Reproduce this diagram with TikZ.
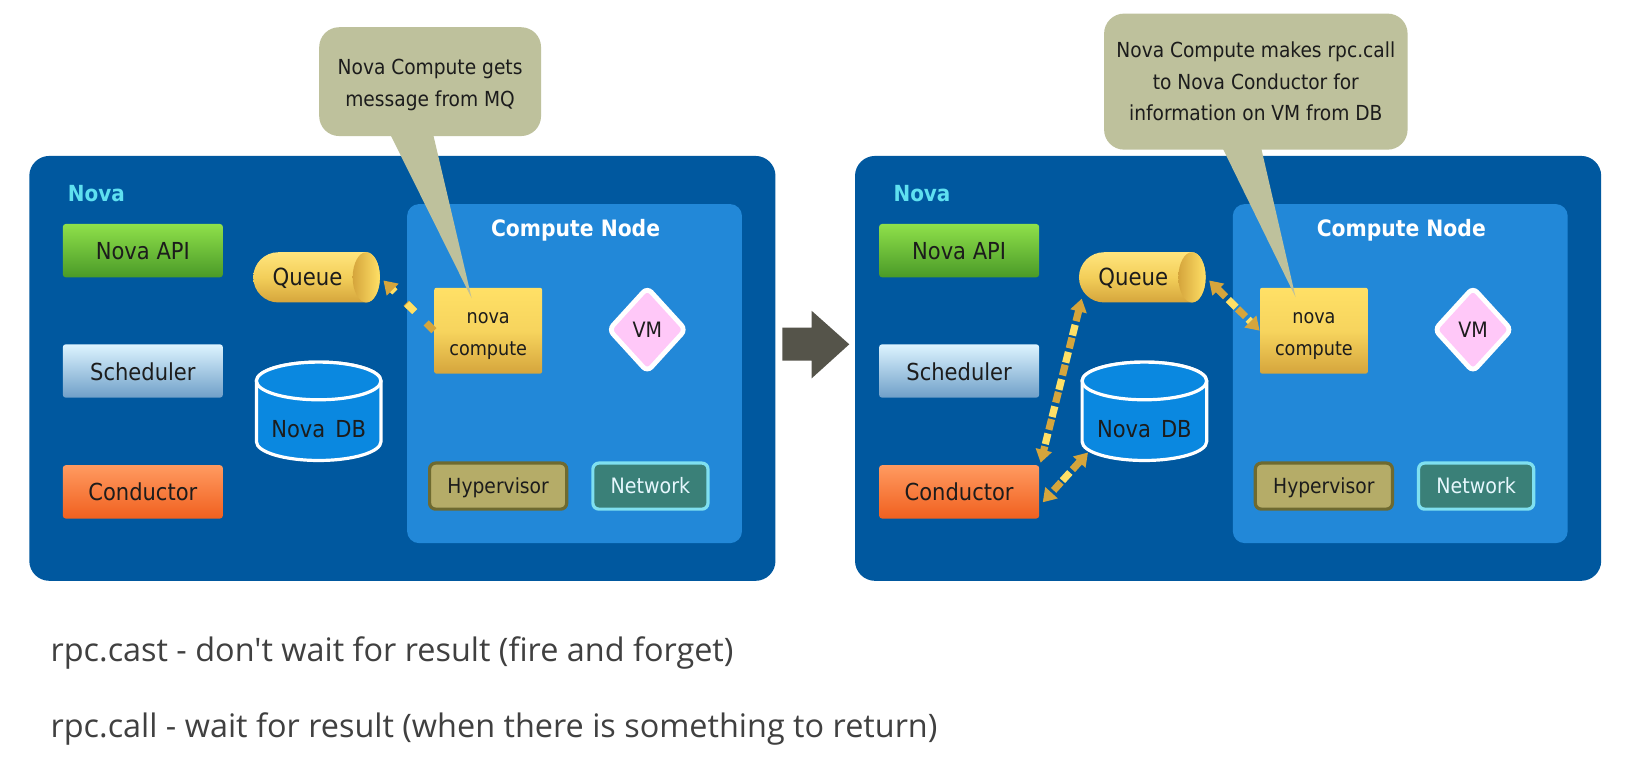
\documentclass[tikz,border=0pt]{standalone}
\usepackage{fontspec}
\setmainfont{DejaVu Sans Condensed}
\newfontfamily\bottomfont{Open Sans}
\usetikzlibrary{arrows.meta,shapes.geometric}
\def\uu{0.5233pt}
\definecolor{panelblue}{HTML}{00589F}
\definecolor{computeblue}{HTML}{2288D8}
\definecolor{calloutc}{HTML}{BEC19C}
\definecolor{gold}{HTML}{D5A53C}
\definecolor{yell}{HTML}{FFE066}
\definecolor{txt}{HTML}{1C1C1C}
\definecolor{dbblue}{HTML}{0A88E0}
\definecolor{vmpink}{HTML}{FFC8F8}
\definecolor{hyp}{HTML}{B5AC68}
\definecolor{hypb}{HTML}{6E6A30}
\definecolor{net}{HTML}{3A8078}
\definecolor{netb}{HTML}{7FE0F0}
\definecolor{arrowc}{HTML}{55544A}
\definecolor{novac}{HTML}{5FE0F0}
\definecolor{apit}{HTML}{8FE04A}
\definecolor{apib}{HTML}{4A9A28}
\definecolor{scht}{HTML}{DDF4FF}
\definecolor{schb}{HTML}{6F9FC8}
\definecolor{cont}{HTML}{FF9A60}
\definecolor{conb}{HTML}{F0601F}
\tikzset{
  x=\uu, y=-\uu,
  lbl/.style={font=\fontsize{11.7}{13}\selectfont, text=txt, align=center},
  sidebox/.style={lbl, minimum width=153*\uu, minimum height=51*\uu, inner sep=0pt, rounded corners=1.5pt},
  panelbox/.style={fill=panelblue, rounded corners=10pt, inner sep=0pt, minimum width=713*\uu, minimum height=406*\uu},
  cnodebox/.style={fill=computeblue, rounded corners=6pt, inner sep=0pt, minimum width=320*\uu, minimum height=324*\uu},
  smallbox/.style={lbl, line width=1.6pt, rounded corners=3pt, inner sep=0pt, minimum height=44*\uu},
  callout/.style={fill=calloutc, draw=none, rounded corners=10pt},
  calltext/.style={font=\fontsize{10.35}{15.7}\selectfont, text=txt, align=center},
  goldline/.style={draw=gold, line width=3.6pt, dash pattern=on 5.5pt off 8.5pt},
  yellline/.style={draw=yell, line width=3.6pt, dash pattern=on 5.5pt off 8.5pt, dash phase=7pt},
  tipstyle/.style={{Triangle[length=6.5pt,width=8pt,fill=gold,color=gold]}-{Triangle[length=6.5pt,width=8pt,fill=gold,color=gold]}},
  endtip/.style={-{Triangle[length=6.5pt,width=8pt,fill=gold,color=gold]}},
  bottomtext/.style={font=\bottomfont\fontsize{16.2}{18}\selectfont, text=black!75, anchor=base west, inner sep=0pt},
}
\newcommand{\lowered}[2]{\raisebox{-#1}[0pt][0pt]{#2}}
% dashed two-tone connector: #1 tips style, #2 from, #3 to
\newcommand{\twotone}[3]{%
  \draw[goldline,#1] #2 -- #3;
  \path[yellline,draw,shorten <=6.5pt,shorten >=6.5pt] #2 -- #3;
}
% #1 name prefix, #2 shift of the left column of boxes
\newcommand{\novapanel}[2]{%
  \node[panelbox] (#1panel) at (384.5,352) {};
  \node[cnodebox] (#1cn) at (549,357) {};
  \node[font=\bfseries\fontsize{11.1}{13}\selectfont, text=novac] (#1nova) at (92,184.5) {Nova};
  \node[font=\bfseries\fontsize{11.3}{13}\selectfont, text=white] (#1cnt) at (550,220.5) {Compute Node};
  \node[sidebox, top color=apit, bottom color=apib] (#1api) at (136.5+#2,239.5) {\lowered{4.2pt}{Nova API}};
  \node[sidebox, top color=scht, bottom color=schb] (#1sch) at (136.5+#2,354.5) {\lowered{4.8pt}{Scheduler}};
  \node[sidebox, top color=cont, bottom color=conb] (#1con) at (136.5+#2,470) {\lowered{4.2pt}{Conductor}};
  % queue
  \path[top color=yell!85!white, bottom color=gold, middle color=yell!70!gold]
    (350,241) arc[start angle=-90,end angle=90,x radius=13,y radius=24] -- (266,289)
    arc[start angle=90,end angle=270,x radius=24,y radius=24] -- cycle;
  \path[left color=gold, right color=yell] (350,265) ellipse[x radius=13,y radius=24];
  \node[lbl, font=\fontsize{11.8}{13}\selectfont, minimum width=121*\uu, minimum height=48*\uu, inner sep=0pt] (#1q) at (302.5,265) {\hspace*{-9pt}\lowered{4.2pt}{Queue}};
  % DB
  \path[draw=white, line width=1.6pt, fill=dbblue]
    (245,364) -- (245,422) arc[start angle=180,end angle=0,x radius=59.5,y radius=18]
    -- (364,364) arc[start angle=0,end angle=-180,x radius=59.5,y radius=18] -- cycle;
  \draw[white, line width=1.6pt, fill=dbblue] (304.5,364) ellipse[x radius=59.5,y radius=18];
  \node[lbl, minimum width=119*\uu, minimum height=94*\uu, inner sep=0pt] (#1db) at (304.5,393) {\lowered{13pt}{Nova\hspace{5pt}DB}};
  % compute parts
  \node[lbl, font=\fontsize{9.8}{15.8}\selectfont, top color=yell, bottom color=gold, middle color=yell!80!gold, minimum width=103*\uu, minimum height=82*\uu, inner sep=0pt, rounded corners=1pt] (#1nc) at (466.5,316) {\lowered{4.5pt}{nova}\\\lowered{4.5pt}{compute}};
  \node[diamond, lbl, font=\fontsize{10.6}{13}\selectfont, fill=vmpink, draw=white, line width=2.4pt, rounded corners=3pt, minimum width=75*\uu, minimum height=82*\uu, inner sep=0pt] (#1vm) at (618.5,315) {VM};
  \node[smallbox, font=\fontsize{10.4}{13}\selectfont, fill=hyp, draw=hypb, minimum width=131*\uu] (#1hy) at (476,464.5) {\lowered{3.8pt}{Hypervisor}};
  \node[smallbox, font=\fontsize{10.6}{13}\selectfont, fill=net, draw=netb, text=white!90!cyan, minimum width=110*\uu] (#1net) at (621.5,464.5) {\lowered{3.8pt}{Network}};
}
\begin{document}
\begin{tikzpicture}
\useasboundingbox (0,0) rectangle (1569,748.2);
\fill[white] (0,0) rectangle (1569,748.2);

\begin{scope}
\novapanel{l}{0}
\end{scope}
\begin{scope}[shift={(789,0)}]
\novapanel{r}{-9}
\end{scope}

% left connector
\twotone{endtip}{(lnc.west)}{([shift={(3,3)}]lq.east)}

% right connectors
\twotone{tipstyle}{([shift={(3,3)}]rq.east)}{(rnc.west)}
\twotone{tipstyle}{([shift={(3,-4)}]rq.south west)}{([shift={(1,-2)}]rcon.north east)}
\twotone{tipstyle}{([shift={(6,-8)}]rdb.south west)}{([shift={(3,10)}]rcon.east)}

% big arrow
\fill[arrowc] (747.5,313) -- (775.6,313) -- (775.6,297) -- (811.5,329) -- (775.6,361.5) -- (775.6,344.6) -- (747.5,344.6) -- cycle;

% callouts
\fill[calloutc] (372.7,128) -- (413.8,128) -- (450.7,285) -- cycle;
\node[callout, minimum width=212*\uu, minimum height=104*\uu, inner sep=0pt, calltext] (c1) at (411,78) {\lowered{4.5pt}{Nova Compute gets}\\[0.4pt]\lowered{4.5pt}{message from MQ}};
\fill[calloutc] (1168,141) -- (1205,141) -- (1238,284) -- cycle;
\node[callout, minimum width=290*\uu, minimum height=130*\uu, inner sep=0pt, calltext] (c2) at (1200,78) {Nova Compute makes rpc.call\\to Nova Conductor for\\information on VM from DB};

% bottom text
\node[bottomtext] (t1) at (48,632) {rpc.cast - don't wait for result (fire and forget)};
\node[bottomtext] (t2) at (48,705) {rpc.call - wait for result (when there is something to return)};
\end{tikzpicture}
\end{document}
